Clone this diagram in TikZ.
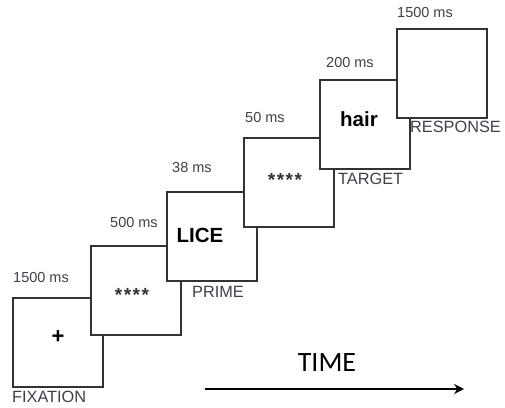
\documentclass[tikz,border=0pt]{standalone}
\usepackage{fontspec}
\setmainfont{Liberation Sans}
\newfontfamily\timefont{Carlito}
\usetikzlibrary{arrows.meta}
\definecolor{boxline}{HTML}{333333}
\definecolor{lbl}{HTML}{3C4048}
\newcommand{\starrow}{*\kern1.5pt*\kern1.5pt*\kern1.5pt*}
\begin{document}
\begin{tikzpicture}[x=1pt,y=-1pt,
  box/.style={draw=boxline,line width=1.5pt,fill=white,minimum width=90pt,minimum height=89pt,inner sep=0pt,anchor=north west},
  dur/.style={text=lbl,font=\fontsize{14.5}{16}\selectfont,anchor=west,inner sep=0pt},
  phase/.style={text=lbl,font=\fontsize{16.3}{18}\selectfont,anchor=west,inner sep=0pt},
  word/.style={font=\bfseries\fontsize{20.5}{22}\selectfont,inner sep=0pt},
  stars/.style={text=boxline,font=\bfseries\fontsize{19}{20}\selectfont,inner sep=0pt}]
\useasboundingbox (0,0) rectangle (505,407);
% boxes
\node[box] (b1) at (12,297) {};
\node[box] (b2) at (90,245) {};
\node[box] (b3) at (166,191) {};
\node[box] (b4) at (243,137) {};
\node[box] (b5) at (319,79) {};
\node[box] (b6) at (396,28) {};
% contents
\node[font=\bfseries\fontsize{22}{24}\selectfont,inner sep=0pt] (plus) at (58,337) {+};
\node[stars] (s1) at (132,295) {\starrow};
\node[word] (lice) at (200,235) {LICE};
\node[stars] (s2) at (285,180) {\starrow};
\node[word] (hair) at (359,119) {hair};
% durations
\node[dur] (d1) at (13,278) {1500 ms};
\node[dur] (d2) at (110,223) {500 ms};
\node[dur] (d3) at (172,168) {38 ms};
\node[dur] (d4) at (245,118) {50 ms};
\node[dur] (d5) at (326,63) {200 ms};
\node[dur] (d6) at (397,13) {1500 ms};
% phases
\node[phase] (p1) at (12,397) {FIXATION};
\node[phase] (p2) at (192,292) {PRIME};
\node[phase] (p3) at (338,179) {TARGET};
\node[phase] (p4) at (410,127) {RESPONSE};
% time
\node[font=\timefont\fontsize{28}{30}\selectfont,inner sep=0pt] (time) at (327,363) {TIME};
\coordinate (ta) at (205,389);
\coordinate (tb) at (464,389);
\draw[line width=2pt,-{Stealth[length=10pt,width=10pt]}] (ta) -- (tb);
\end{tikzpicture}
\end{document}
